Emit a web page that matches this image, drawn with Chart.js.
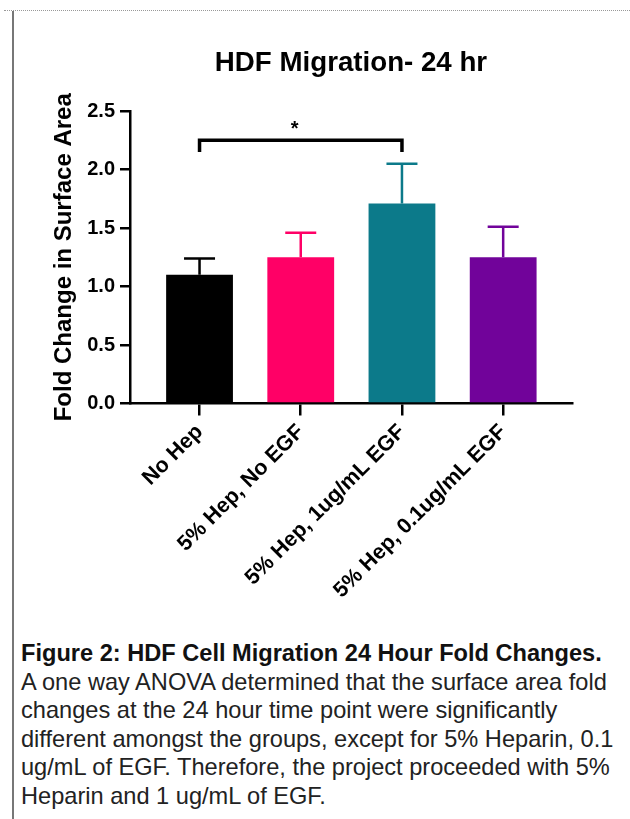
<!DOCTYPE html>
<html>
<head>
<meta charset="utf-8">
<script src="https://cdn.jsdelivr.net/npm/chart.js@4/dist/chart.umd.min.js"></script>
<style>
    body { margin: 0; background: #fff; width: 630px; height: 819px; overflow: hidden; position: relative; }
    #frame-top { position: absolute; left: 4px; top: 10px; width: 626px; border-top: 1px dotted #999; }
    #frame-left { position: absolute; left: 12px; top: 11px; width: 2px; height: 808px; background: #777; }
    #chart { position: absolute; left: 0; top: 0; }
    .caption { position: absolute; left: 21px; top: 639px; font-family: 'Liberation Sans', Arial, sans-serif;
               font-size: 23.6px; line-height: 28.5px; color: #222; white-space: nowrap; }
    .caption b { color: #111; }
</style>
</head>
<body>
<div id="frame-top"></div>
<div id="frame-left"></div>
<canvas id="chart" width="630" height="620"></canvas>
<div class="caption">
    <b>Figure 2: HDF Cell Migration 24 Hour Fold Changes.</b><br>
    A one way ANOVA determined that the surface area fold<br>
    changes at the 24 hour time point were significantly<br>
    different amongst the groups, except for 5% Heparin, 0.1<br>
    ug/mL of EGF. Therefore, the project proceeded with 5%<br>
    Heparin and 1 ug/mL of EGF.
</div>
<script>
// Datos del gráfico
const categories = ['No Hep', '5% Hep, No EGF', '5% Hep, 1ug/mL EGF', '5% Hep, 0.1ug/mL EGF'];
const meanValues = [1.10, 1.25, 1.71, 1.25];
const errorValues = [0.14, 0.21, 0.34, 0.26];
const barColors = ['#000000', '#ff0066', '#0c7a8a', '#71039a'];
const yTicks = [0, 0.5, 1.0, 1.5, 2.0, 2.5];
const sigPair = [0, 2];
const sigLevel = [2.25, 2.15];   // altura del corchete y final de las patas
const sigLabel = '*';

const FONT = "'Liberation Sans', Arial, sans-serif";

// Barras de error (solo la parte superior, estilo Prism)
const errorBarPlugin = {
    id: 'errorBars',
    afterDatasetsDraw(chart) {
        const ctx = chart.ctx;
        const xs = chart.scales.x, ys = chart.scales.y;
        const capHalf = 15.5;
        meanValues.forEach((m, i) => {
            const px = xs.getPixelForValue(i);
            const yTop = ys.getPixelForValue(m);
            const yErr = ys.getPixelForValue(m + errorValues[i]);
            ctx.save();
            ctx.strokeStyle = barColors[i];
            ctx.lineWidth = 2.5;
            ctx.beginPath();
            ctx.moveTo(px, yTop);
            ctx.lineTo(px, yErr);
            ctx.moveTo(px - capHalf, yErr);
            ctx.lineTo(px + capHalf, yErr);
            ctx.stroke();
            ctx.restore();
        });

        // Corchete de significancia
        const x1 = xs.getPixelForValue(sigPair[0]);
        const x2 = xs.getPixelForValue(sigPair[1]);
        const yLine = ys.getPixelForValue(sigLevel[0]);
        const yLeg = ys.getPixelForValue(sigLevel[1]);
        ctx.save();
        ctx.strokeStyle = '#000';
        ctx.lineWidth = 3.5;
        ctx.lineJoin = 'miter';
        ctx.beginPath();
        ctx.moveTo(x1, yLeg);
        ctx.lineTo(x1, yLine);
        ctx.lineTo(x2, yLine);
        ctx.lineTo(x2, yLeg);
        ctx.stroke();
        ctx.fillStyle = '#000';
        ctx.font = 'bold 20px ' + FONT;
        ctx.textAlign = 'center';
        ctx.textBaseline = 'middle';
        ctx.fillText(sigLabel, (x1 + x2) / 2 - 6, yLine - 11);
        ctx.restore();
    }
};

const ctx = document.getElementById('chart').getContext('2d');
new Chart(ctx, {
    type: 'bar',
    data: {
        datasets: [{
            data: categories.map((c, i) => ({ x: i, y: meanValues[i] })),
            backgroundColor: barColors,
            borderWidth: 0,
            categoryPercentage: 0.66,
            barPercentage: 1.0
        }]
    },
    options: {
        responsive: false,
        animation: false,
        devicePixelRatio: 1,
        layout: { padding: { left: 46, right: 58, top: 0, bottom: 0 } },
        plugins: {
            legend: { display: false },
            tooltip: { enabled: false },
            title: {
                display: true,
                text: 'HDF Migration- 24 hr',
                fullSize: false,
                color: '#000',
                font: { family: FONT, size: 27.7, weight: 'bold' },
                padding: { top: 46.5, bottom: 31.3 }
            }
        },
        scales: {
            x: {
                type: 'linear',
                offset: false,
                min: -0.687,
                max: 3.68,
                afterBuildTicks: (scale) => { scale.ticks = categories.map((c, i) => ({ value: i })); },
                afterFit: (scale) => { scale.height = 216.5; },
                ticks: {
                    callback: (v) => categories[v],
                    minRotation: 45,
                    maxRotation: 45,
                    autoSkip: false,
                    padding: 4,
                    color: '#000',
                    font: { family: FONT, size: 21.5, weight: 'bold' }
                },
                grid: { offset: false, drawOnChartArea: false, drawTicks: true, tickLength: 12, color: '#000', lineWidth: 2.5 },
                border: { display: true, color: '#000', width: 2.5 }
            },
            y: {
                min: 0,
                max: 2.5,
                afterBuildTicks: (scale) => { scale.ticks = yTicks.map(v => ({ value: v })); },
                afterFit: (scale) => { scale.width = 84; },
                ticks: {
                    callback: (v) => v.toFixed(1),
                    padding: 5,
                    color: '#000',
                    font: { family: FONT, size: 20, weight: 'bold' }
                },
                grid: { drawOnChartArea: false, drawTicks: true, tickLength: 10, color: '#000', lineWidth: 2.5 },
                border: { display: true, color: '#000', width: 2.5 },
                title: {
                    display: true,
                    text: 'Fold Change in Surface Area',
                    color: '#000',
                    font: { family: FONT, size: 24, weight: 'bold' },
                    padding: { top: 4, bottom: 4 }
                }
            }
        }
    },
    plugins: [errorBarPlugin]
});
</script>
</body>
</html>
